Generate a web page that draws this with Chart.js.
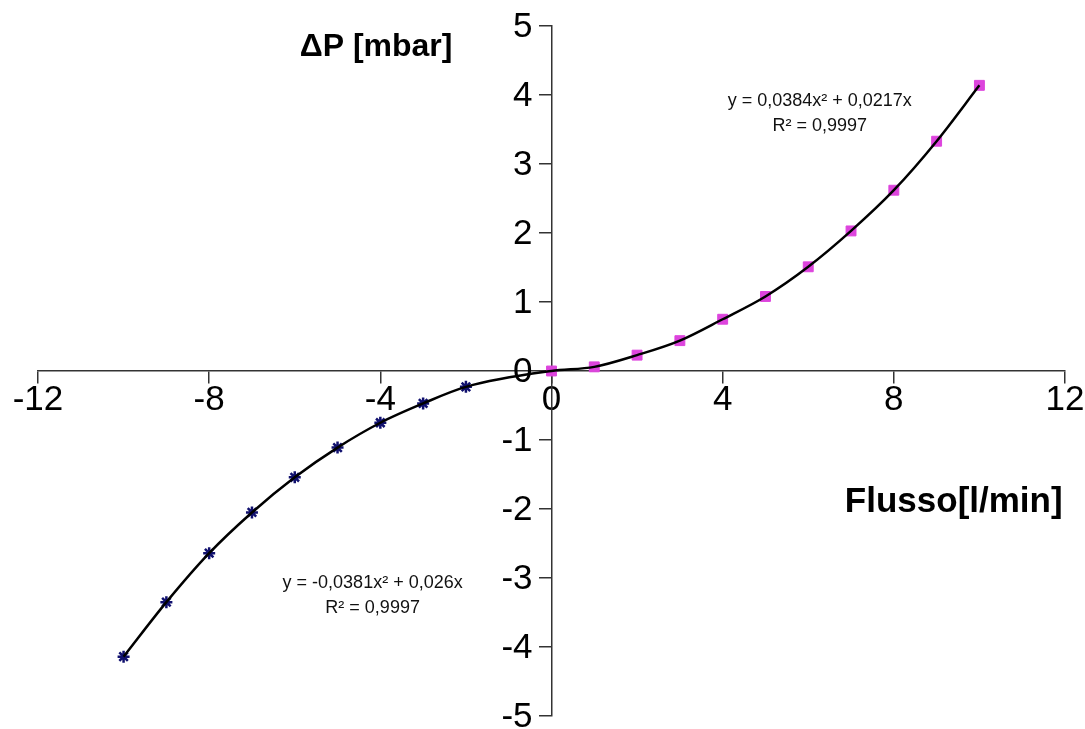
<!DOCTYPE html>
<html lang="it">
<head>
<meta charset="UTF-8" />
<title>ΔP - Flusso</title>
<style>
  body {
    margin: 0;
    background: #fff;
  }
  #wrap {
    width: 1085px;
    height: 729px;
  }
</style>
</head>
<body>
<div id="wrap"><canvas id="chart" width="1085" height="729"></canvas></div>

<script src="https://cdn.jsdelivr.net/npm/chart.js"></script>
<script>
  // Dati
  const posX = [0, 1, 2, 3, 4, 5, 6, 7, 8, 9, 10];
  const posY = [0, 0.06, 0.23, 0.44, 0.75, 1.08, 1.51, 2.03, 2.62, 3.33, 4.14];
  const negX = [-10, -9, -8, -7, -6, -5, -4, -3, -2];
  const negY = [-4.14, -3.35, -2.64, -2.05, -1.54, -1.11, -0.75, -0.47, -0.23];

  const xTicks = [-12, -8, -4, 0, 4, 8, 12];
  const yTicks = [-5, -4, -3, -2, -1, 0, 1, 2, 3, 4, 5];

  const posEq = ['y = 0,0384x\u00B2 + 0,0217x', 'R\u00B2 = 0,9997'];
  const negEq = ['y = -0,0381x\u00B2 + 0,026x', 'R\u00B2 = 0,9997'];

  const toPts = (xs, ys) => xs.map((x, i) => ({x: x, y: ys[i]}));
  const FONT = '"Liberation Sans", Arial, sans-serif';

  // testi liberi: etichette asse y, titoli assi ed equazioni
  const textPlugin = {
    id: 'texts',
    afterDraw(chart) {
      const ctx = chart.ctx;
      const sx = chart.scales.x, sy = chart.scales.y;
      const x0 = sx.getPixelForValue(0);
      ctx.save();
      ctx.fillStyle = '#000';

      // etichette asse y a sinistra delle tacche
      ctx.font = '35px ' + FONT;
      ctx.textAlign = 'right';
      ctx.textBaseline = 'middle';
      sy.ticks.forEach(t => {
        ctx.fillText(String(t.value), x0 - 19, sy.getPixelForValue(t.value) + 1);
      });

      ctx.textAlign = 'center';
      ctx.font = 'bold 32px ' + FONT;
      ctx.fillText('\u0394P [mbar]', sx.getPixelForValue(-4.1), sy.getPixelForValue(4.7));
      ctx.font = 'bold 35px ' + FONT;
      ctx.fillText('Flusso[l/min]', sx.getPixelForValue(9.4), sy.getPixelForValue(-1.91));

      ctx.font = '18px ' + FONT;
      ctx.fillStyle = '#111';
      ctx.fillText(posEq[0], sx.getPixelForValue(6.27), sy.getPixelForValue(3.91));
      ctx.fillText(posEq[1], sx.getPixelForValue(6.27), sy.getPixelForValue(3.55));
      ctx.fillText(negEq[0], sx.getPixelForValue(-4.18), sy.getPixelForValue(-3.07));
      ctx.fillText(negEq[1], sx.getPixelForValue(-4.18), sy.getPixelForValue(-3.43));
      ctx.restore();
    }
  };

  new Chart(document.getElementById('chart').getContext('2d'), {
    type: 'scatter',
    data: {
      datasets: [
        {
          // linea di tendenza
          type: 'line',
          data: toPts(negX.concat(posX), negY.concat(posY)),
          borderColor: '#000',
          borderWidth: 2.5,
          pointRadius: 0,
          fill: false,
          cubicInterpolationMode: 'monotone'
        },
        {
          data: toPts(posX, posY),
          pointStyle: 'rect',
          pointRadius: 7,
          backgroundColor: '#dd44dd',
          borderColor: '#dd44dd',
          borderWidth: 1
        },
        {
          data: toPts(negX, negY),
          pointStyle: 'star',
          pointRadius: 6,
          borderColor: '#10106e',
          backgroundColor: '#10106e',
          borderWidth: 2.5
        }
      ]
    },
    options: {
      responsive: false,
      animation: false,
      layout: {padding: {left: 38, right: 20, top: 26, bottom: 13}},
      plugins: {
        legend: {display: false},
        tooltip: {enabled: false}
      },
      scales: {
        x: {
          type: 'linear',
          min: -12,
          max: 12,
          position: {y: 0},
          afterBuildTicks: (axis) => { axis.ticks = xTicks.map(v => ({value: v})); },
          ticks: {
            color: '#000',
            font: {family: FONT, size: 35, lineHeight: 1},
            padding: 0,
            maxRotation: 0,
            autoSkip: false
          },
          grid: {drawOnChartArea: false, tickLength: 12, color: '#333', lineWidth: 1.5},
          border: {color: '#333', width: 1.5}
        },
        y: {
          type: 'linear',
          min: -5,
          max: 5,
          position: {x: 0},
          afterBuildTicks: (axis) => { axis.ticks = yTicks.map(v => ({value: v})); },
          ticks: {display: false},
          grid: {drawOnChartArea: false, tickLength: 12, color: '#333', lineWidth: 1.5},
          border: {color: '#333', width: 1.5}
        }
      }
    },
    plugins: [textPlugin]
  });
</script>
</body>
</html>
